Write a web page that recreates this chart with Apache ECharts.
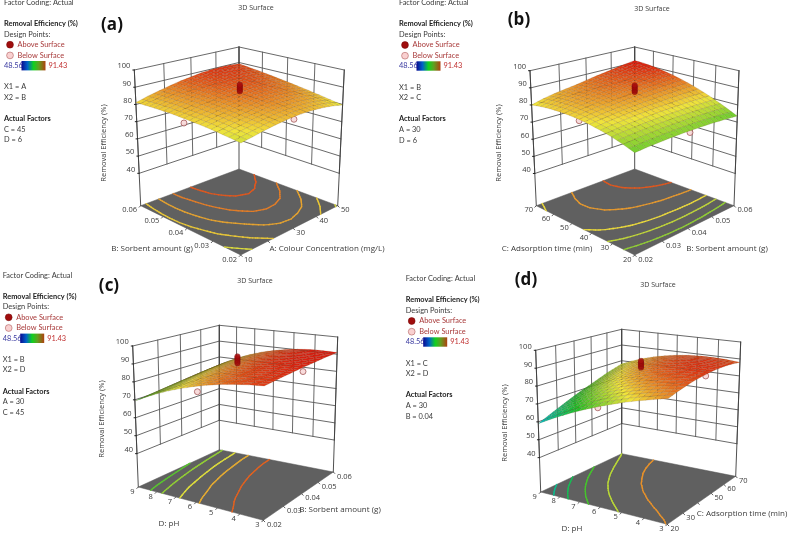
<!DOCTYPE html>
<html><head><meta charset="utf-8">
<style>html,body{margin:0;padding:0;background:#fff}#c{width:788px;height:534px}</style>
<script src="https://cdn.jsdelivr.net/npm/echarts@6/dist/echarts.min.js"></script>
</head><body><div id="c"></div>
<script>
// ---------- values ----------
const zTicks=[40,50,60,70,80,90,100];
const colourTicks=[10,20,30,40,50], colourLabels=['10','','30','40','50'];
const sorbentTicks=[0.02,0.03,0.04,0.05,0.06], sorbentLabels=['0.02','0.03','0.04','0.05','0.06'];
const timeTicks=[20,30,40,50,60,70], timeLabelsB=['20','30','40','50','60','70'], timeLabelsD=['20','30','','50','60','70'];
const phTicks=[3,4,5,6,7,8,9], phLabels=['3','4','5','6','7','8','9'];
const centrePoints=[87.6,88.5,89.6,90.5,91.43];
const legendRange=['48.56','91.43'];
// surfaces: rows follow the second factor, columns the first factor
const surfaceA=[
[79,80,81.1,82,82.6,83,83,82.6,82,81,79.7],
[79.7,80.8,81.9,82.8,83.5,83.9,84,83.7,83.2,82.2,80.9],
[80.4,81.5,82.6,83.4,84.2,84.8,84.9,84.8,84.3,83.4,82.1],
[80.9,82.1,83.2,84,84.9,85.6,85.8,85.7,85.3,84.4,83.2],
[81.2,82.5,83.7,84.6,85.5,86.2,86.5,86.5,86.2,85.4,84.2],
[81.5,82.9,84.1,85,86,86.8,87.2,87.3,87,86.3,85.2],
[81.7,83.1,84.4,85.4,86.4,87.3,87.8,88,87.8,87.1,86.1],
[81.7,83.3,84.6,85.6,86.8,87.7,88.3,88.5,88.4,87.9,87],
[81.6,83.3,84.7,85.8,87,88,88.7,89,89,88.6,87.8],
[81.4,83.2,84.7,86,87.2,88.2,89,89.4,89.5,89.2,88.5],
[81.1,83,84.6,86,87.3,88.3,89.2,89.7,89.9,89.7,89.2]];
const surfaceB=[
[74,74.4,74.7,74.9,75,75,74.9,74.7,74.4,74,73.5],
[76.1,76.6,77,77.3,77.5,77.6,77.6,77.5,77.3,77.1,76.7],
[77.9,78.5,79,79.4,79.7,79.9,80,80,80,79.8,79.6],
[79.3,80.1,80.7,81.2,81.6,81.9,82,82.2,82.3,82.3,82.2],
[80.4,81.3,82,82.6,83.1,83.5,83.8,84.1,84.2,84.4,84.5],
[81.2,82.2,83,83.7,84.3,84.8,85.2,85.6,85.9,86.2,86.4],
[81.6,82.8,83.7,84.5,85.2,85.8,86.3,86.8,87.3,87.7,88],
[81.7,83.1,84.1,84.9,85.7,86.3,87.1,87.7,88.3,88.9,89.3],
[81.5,83,84.1,85,85.9,86.7,87.5,88.3,89,89.8,90.3],
[80.9,82.6,83.8,84.7,85.7,86.6,87.7,88.6,89.4,90.3,91],
[80,81.9,83.2,84.2,85.2,86.4,87.5,88.5,89.5,90.5,91.3]];
const surfaceC=[
[89.5,88.8,87.8,86.5,84.9,83,80.8,78.4,75.6,72.6,69.3],
[89.8,89.3,88.4,87.2,85.7,83.9,81.7,79.3,76.4,73.4,70],
[90.1,89.7,89,87.9,86.4,84.6,82.5,80.1,77.2,74.1,70.6],
[90.3,90.1,89.4,88.5,87,85.3,83.3,80.8,77.9,74.8,71.2],
[90.5,90.4,89.9,89,87.6,86,83.9,81.5,78.6,75.4,71.8],
[90.7,90.7,90.2,89.4,88.1,86.5,84.5,82.1,79.2,76,72.4],
[90.8,90.9,90.5,89.8,88.5,87,85,82.6,79.8,76.6,73],
[90.9,91,90.7,90,88.8,87.3,85.4,83,80.3,77.1,73.5],
[91,91.1,90.9,90.2,89.1,87.6,85.8,83.4,80.7,77.6,74],
[91,91.2,91,90.4,89.3,87.9,86,83.8,81,78,74.5],
[91,91.2,91,90.4,89.4,88,86.2,84,81.4,78.4,75]];
const surfaceD=[
[85.2,83.4,81.5,79.4,77,74.5,71.8,68.9,65.8,62.5,59],
[86.5,85.2,83.6,81.8,79.6,77.2,74.6,71.7,68.5,65.1,61.4],
[87.6,86.7,85.4,83.8,81.9,79.6,77.1,74.2,71,67.5,63.6],
[88.5,87.9,86.9,85.6,83.8,81.7,79.3,76.5,73.3,69.7,65.8],
[89.1,88.8,88.1,87,85.5,83.5,81.2,78.5,75.4,71.8,67.9],
[89.5,89.5,89,88.1,86.8,85,82.8,80.2,77.2,73.7,69.8],
[89.7,89.9,89.6,88.9,87.8,86.2,84.1,81.7,78.8,75.4,71.6],
[89.6,90,89.9,89.4,88.5,87,85.2,82.9,80.3,77,73.4],
[89.3,89.8,90,89.6,88.8,87.6,86,83.9,81.4,78.4,75.2],
[88.8,89.4,89.7,89.4,88.9,87.9,86.4,84.6,82.5,79.7,76.6],
[88,88.7,89.1,89,88.6,87.8,86.6,85,83.1,80.7,78]];
const contourLevelsA=[80,82,84,86,88], contourLevelsB=[76,78.5,81,84.5,88], contourLevelsC=[73,76,80,83.5,87.5], contourLevelsD=[63,67,72,78,85];
// design points below the surface: [first factor, second factor, response]
const belowA=[[10,0.04,79],[29,0.02,81.5]];
const belowB=[[0.02,45,80.5],[0.04,20,74]];
const belowC=[[5.8,0.02,80.7],[3,0.039,88.4]];
const belowD=[[6,20,74],[3,43.5,88.6]];

// ---------- layout ----------
const W=788,H=534,FONT='"Open Sans","Noto Sans",sans-serif',SIDEFONT='Lato,"Open Sans",sans-serif';
const panels=[
 {tag:'(a)',tagAt:[112,25],titleAt:[256,8],side:[4,2.7],x1:'A',x2:'B',actual:['C = 45','D = 6'],
  surf:surfaceA,levels:contourLevelsA,below:belowA,
  f1:{t:colourTicks,l:colourLabels},f2:{t:sorbentTicks,l:sorbentLabels},
  floor:[[240.7,255],[337.7,205.7],[239,169],[140.7,205.7]],top:[[241,102.3],[344.3,70],[239,47],[134.3,70]],z0:21.2,
  zTitle:[104,143],titles:[['B: Sorbent amount (g)',152,249],['A: Colour Concentration (mg/L)',327,249]]},
 {tag:'(b)',tagAt:[519,20],titleAt:[652,8.5],side:[399,3],x1:'B',x2:'C',actual:['A = 30','D = 6'],
  surf:surfaceB,levels:contourLevelsB,below:belowB,
  f1:{t:sorbentTicks,l:sorbentLabels},f2:{t:timeTicks,l:timeLabelsB},
  floor:[[634.7,255],[734,205.7],[634.7,169],[536.3,205.7]],top:[[634.7,102.3],[739,70.7],[634.7,47],[530,70.7]],z0:21.2,
  zTitle:[499,143],titles:[['C: Adsorption time (min)',547,249],['B: Sorbent amount (g)',727,249]]},
 {tag:'(c)',tagAt:[109,286],titleAt:[255,280.7],side:[2.7,275.3],x1:'B',x2:'D',actual:['A = 30','C = 45'],
  surf:surfaceC,levels:contourLevelsC,below:belowC,
  f1:{t:phTicks,l:phLabels},f2:{t:sorbentTicks,l:sorbentLabels},
  floor:[[263.3,520.3],[138.3,487],[219.3,449.7],[333.3,472]],top:[[264.3,365.3],[132.7,346],[219.3,325.3],[337.7,337]],z0:21.4,
  zTitle:[102,419],titles:[['D: pH',169,524],['B: Sorbent amount (g)',340,510]]},
 {tag:'(d)',tagAt:[526,280],titleAt:[658,284.7],side:[405.7,279],x1:'C',x2:'D',actual:['A = 30','B = 0.04'],
  surf:surfaceD,levels:contourLevelsD,below:belowD,
  f1:{t:phTicks,l:phLabels},f2:{t:timeTicks,l:timeLabelsD},
  floor:[[667.3,524.3],[540.7,492],[621.7,453.7],[735.7,476.3]],top:[[668.3,369.7],[535.7,350.3],[621.7,329.3],[740.7,342]],z0:20.8,
  zTitle:[505,423],titles:[['D: pH',572,529],['C: Adsorption time (min)',742,514]]}
];
const stops=[[0,[0,0,190]],[.25,[0,190,200]],[.5,[30,190,40]],[.75,[240,228,60]],[1,[222,22,14]]];
function palette(z){
  const t=Math.max(0,Math.min(1,(z-48.56)/(91.43-48.56)));
  for(let i=1;i<stops.length;i++) if(t<=stops[i][0]){
    const a=stops[i-1],b=stops[i],k=(t-a[0])/(b[0]-a[0]);
    return 'rgb('+a[1].map((v,n)=>Math.round(v+(b[1][n]-v)*k)).join(',')+')';
  }
  return 'rgb(222,22,14)';
}
function homography(q){
  const [x0,y0]=q[0],[x1,y1]=q[1],[x2,y2]=q[2],[x3,y3]=q[3];
  const sx=x0-x1+x2-x3,sy=y0-y1+y2-y3,dx1=x1-x2,dx2=x3-x2,dy1=y1-y2,dy2=y3-y2,den=dx1*dy2-dx2*dy1;
  const g=(sx*dy2-dx2*sy)/den,h=(dx1*sy-sx*dy1)/den;
  const a=x1-x0+g*x1,b=x3-x0+h*x3,d=y1-y0+g*y1,e=y3-y0+h*y3;
  return (u,v)=>{const w=g*u+h*v+1;return [(a*u+b*v+x0)/w,(d*u+e*v+y0)/w];};
}
const lineSegs=[],floors=[],contourSegs=[],cells=[],belowPts=[],abovePts=[],graphics=[];
function txt(text,x,y,size,o){o=o||{};graphics.push({type:'text',silent:true,x,y,rotation:o.rot||0,z:50,style:{text,x:0,y:0,font:(o.bold?'bold ':'')+size+'px '+(o.side?SIDEFONT:FONT),fill:o.fill||'#3a3a3a',align:o.align||'left',verticalAlign:'middle'}});}
const LINE='#585858',CORNER='#3c3c3c';
panels.forEach(P=>{
  const hf=homography(P.floor),ht=homography(P.top);
  const pr=(u,v,z)=>{const a=hf(u,v),b=ht(u,v),t=(z-P.z0)/(100-P.z0);return [a[0]+(b[0]-a[0])*t,a[1]+(b[1]-a[1])*t];};
  const seg=(a,b,c,w)=>lineSegs.push({v:[a[0],a[1],b[0],b[1]],c,w});
  const nrm=(ticks,val)=>(val-ticks[0])/(ticks[ticks.length-1]-ticks[0]);
  const zMax=zTicks[zTicks.length-1],zMin=zTicks[0];
  // back walls
  zTicks.forEach(z=>{seg(pr(1,0,z),pr(1,1,z),LINE,.9);seg(pr(0,1,z),pr(1,1,z),LINE,.9);});
  P.f1.t.forEach(t=>{const u=nrm(P.f1.t,t);seg(pr(u,1,zMin),pr(u,1,zMax),LINE,.9);});
  P.f2.t.forEach(t=>{const v=nrm(P.f2.t,t);seg(pr(1,v,zMin),pr(1,v,zMax),LINE,.9);});
  [[1,0],[1,1],[0,1]].forEach(c=>seg(pr(c[0],c[1],P.z0),pr(c[0],c[1],zMax),CORNER,.9));
  // floor
  floors.push([].concat(pr(0,0,P.z0),pr(1,0,P.z0),pr(1,1,P.z0),pr(0,1,P.z0)));
  // axis ticks and labels on the two front edges
  const front=pr(0,0,P.z0);
  const edge=(ax,isFirst)=>ax.t.forEach((t,i)=>{
    const s=nrm(ax.t,t),p=isFirst?pr(s,0,P.z0):pr(0,s,P.z0);
    const end=isFirst?pr(1,0,P.z0):pr(0,1,P.z0),dir=end[0]>front[0]?1:-1;
    seg(p,[p[0]+dir*1.5,p[1]+1.5],'#333',.8);
    if(ax.l[i]){const off=ax.l[i].length>2?11:(ax.l[i].length>1?7.5:6);txt(ax.l[i],p[0]+dir*off,p[1]+4.5,7.5,{align:'center'});}
  });
  edge(P.f1,true);edge(P.f2,false);
  // z ticks on the left corner
  const leftC=P.floor[1][0]<P.floor[3][0]?[1,0]:[0,1];
  zTicks.forEach(z=>{const p=pr(leftC[0],leftC[1],z);seg([p[0]-1.5,p[1]],p,'#222',1);txt(String(z),p[0]-4,p[1]-3.8,7.5,{align:'right'});});
  txt('Removal Efficiency (%)',P.zTitle[0],P.zTitle[1],7.5,{rot:Math.PI/2,align:'center'});
  P.titles.forEach(t=>txt(t[0],t[1],t[2],8,{align:'center'}));
  txt('3D Surface',P.titleAt[0],P.titleAt[1],7,{align:'center'});
  txt(P.tag,P.tagAt[0],P.tagAt[1],17,{bold:true,align:'center',fill:'#111'});
  // contours on the floor
  const S=P.surf,N=S.length-1,sample=(u,v)=>{const a=Math.min(N-1,Math.floor(u*N)),b=Math.min(N-1,Math.floor(v*N)),p=u*N-a,q=v*N-b;
    return S[b][a]*(1-p)*(1-q)+S[b][a+1]*p*(1-q)+S[b+1][a]*(1-p)*q+S[b+1][a+1]*p*q;};
  const R=N*4;
  P.levels.forEach(L=>{
    const col=palette(L);
    for(let i=0;i<R;i++)for(let j=0;j<R;j++){
      const c=[[i,j],[i+1,j],[i+1,j+1],[i,j+1]].map(k=>[k[0]/R,k[1]/R,sample(k[0]/R,k[1]/R)]),pts=[];
      for(let k=0;k<4;k++){const a=c[k],b=c[(k+1)%4];
        if((a[2]<L)!==(b[2]<L)){const m=(L-a[2])/(b[2]-a[2]);pts.push(pr(a[0]+(b[0]-a[0])*m,a[1]+(b[1]-a[1])*m,P.z0));}}
      if(pts.length>=2)contourSegs.push({v:[pts[0][0],pts[0][1],pts[1][0],pts[1][1]],c:col});
    }
  });
  // surface mesh, back to front
  const M=N*2,list=[];
  for(let i=0;i<M;i++)for(let j=0;j<M;j++)list.push([i,j]);
  list.sort((a,b)=>(b[0]+b[1])-(a[0]+a[1]));
  list.forEach(([i,j])=>{
    const q=[[i,j],[i+1,j],[i+1,j+1],[i,j+1]].map(k=>{const u=k[0]/M,v=k[1]/M,z=sample(u,v);return {p:pr(u,v,z),z};});
    cells.push({v:[].concat(q[0].p,q[1].p,q[2].p,q[3].p),c:palette((q[0].z+q[1].z+q[2].z+q[3].z)/4)});
  });
  // design points
  P.below.forEach(b=>belowPts.push(pr(nrm(P.f1.t,b[0]),nrm(P.f2.t,b[1]),b[2])));
  centrePoints.forEach(z=>abovePts.push(pr(.5,.5,z)));
  // side panel
  const [sx,sy]=P.side,S2={side:true};
  txt('Factor Coding: Actual',sx,sy,7.4,S2);
  txt('Removal Efficiency (%)',sx,sy+21,7.4,{side:true,bold:true,fill:'#222'});
  txt('Design Points:',sx,sy+31.7,7.4,S2);
  graphics.push({type:'circle',silent:true,z:50,shape:{cx:sx+6,cy:sy+42,r:3.4},style:{fill:'#a00d0d',stroke:'#7a0a0a',lineWidth:.6}});
  txt('Above Surface',sx+13.5,sy+42,7.4,{side:true,fill:'#a83a3a'});
  graphics.push({type:'circle',silent:true,z:50,shape:{cx:sx+6,cy:sy+52.7,r:3.4},style:{fill:'#f9d0d0',stroke:'#b06060',lineWidth:.6}});
  txt('Below Surface',sx+13.5,sy+52.7,7.4,{side:true,fill:'#a83a3a'});
  txt(legendRange[0],sx,sy+63,7.4,{side:true,fill:'#3a3aa0'});
  txt(legendRange[1],sx+44.5,sy+63,7.4,{side:true,fill:'#c03030'});
  graphics.push({type:'rect',silent:true,z:50,shape:{x:sx+17.5,y:sy+58.3,width:24,height:9.4},style:{fill:new echarts.graphic.LinearGradient(0,0,1,0,[
    {offset:0,color:'#0a0a90'},{offset:.25,color:'#0060c8'},{offset:.5,color:'#10d020'},{offset:.72,color:'#60a020'},{offset:1,color:'#b04010'}])}});
  txt('X1 = '+P.x1,sx,sy+84.3,7.4,S2);
  txt('X2 = '+P.x2,sx,sy+94.7,7.4,S2);
  txt('Actual Factors',sx,sy+116,7.4,{side:true,bold:true,fill:'#222'});
  txt(P.actual[0],sx,sy+126.7,7.4,S2);
  txt(P.actual[1],sx,sy+137.4,7.4,S2);
});
const lineItem=(store,width)=>(params,api)=>{
  const a=api.coord([api.value(0),api.value(1)]),b=api.coord([api.value(2),api.value(3)]),s=store[params.dataIndex];
  return {type:'line',shape:{x1:a[0],y1:a[1],x2:b[0],y2:b[1]},style:{stroke:s.c,lineWidth:s.w||width,lineCap:'round',opacity:s.w?1:.88}};
};
const polyPts=(api,n)=>{const o=[];for(let i=0;i<n;i++)o.push(api.coord([api.value(2*i),api.value(2*i+1)]));return o;};
const chart=echarts.init(document.getElementById('c'),null,{renderer:'canvas'});
chart.setOption({
  animation:false,backgroundColor:'#fff',tooltip:{show:false},
  grid:{left:0,right:0,top:0,bottom:0},
  xAxis:{type:'value',min:0,max:W,show:false},
  yAxis:{type:'value',min:0,max:H,inverse:true,show:false},
  graphic:graphics,
  series:[
   {type:'custom',name:'walls',z:1,silent:true,clip:false,encode:{x:[0,2],y:[1,3]},data:lineSegs.map(s=>s.v),renderItem:lineItem(lineSegs,.9)},
   {type:'custom',name:'floor',z:2,silent:true,clip:false,encode:{x:[0,2,4,6],y:[1,3,5,7]},data:floors,
    renderItem:(p,api)=>({type:'polygon',shape:{points:polyPts(api,4)},style:{fill:'#606060',stroke:'#555',lineWidth:.5}})},
   {type:'custom',name:'contours',z:3,silent:true,clip:false,encode:{x:[0,2],y:[1,3]},data:contourSegs.map(s=>s.v),renderItem:lineItem(contourSegs,1.4)},
   {type:'scatter',name:'Below Surface',z:4,silent:true,symbolSize:6,data:belowPts,itemStyle:{color:'#f6d2d2',borderColor:'#9a4a4a',borderWidth:.9}},
   {type:'custom',name:'surface',z:5,silent:true,clip:false,encode:{x:[0,2,4,6],y:[1,3,5,7]},data:cells.map(c=>c.v),
    renderItem:(p,api)=>({type:'polygon',shape:{points:polyPts(api,4)},style:{fill:cells[p.dataIndex].c,stroke:'rgba(80,50,15,.3)',lineWidth:.45}})},
   {type:'scatter',name:'Above Surface',z:6,silent:true,symbolSize:5.5,data:abovePts,itemStyle:{color:'#a80d0d',borderColor:'#7a0808',borderWidth:.5}}
  ]
});
</script></body></html>
